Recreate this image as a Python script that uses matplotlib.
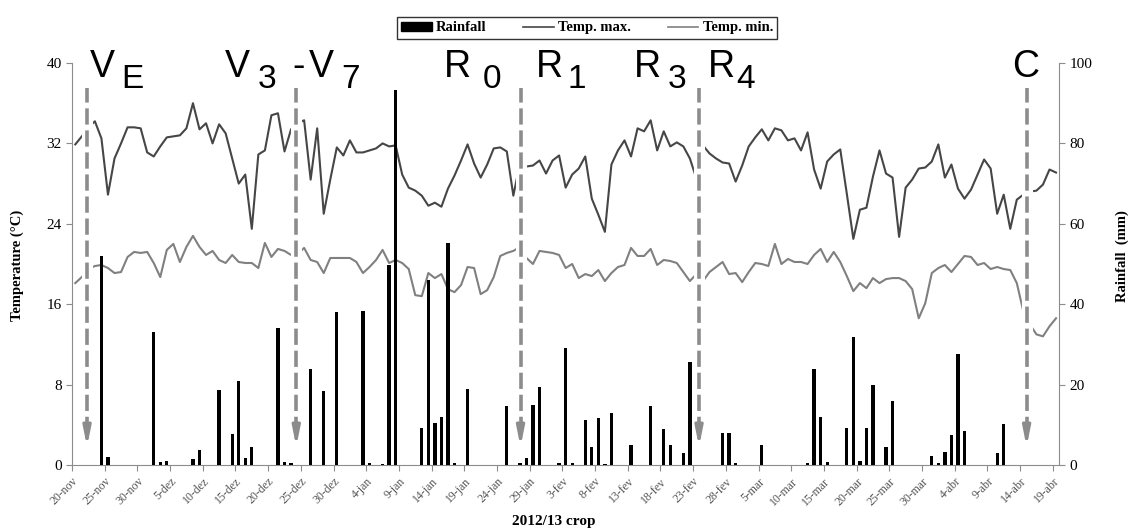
import numpy as np
import matplotlib
matplotlib.use("Agg")
import matplotlib.pyplot as plt
from matplotlib.lines import Line2D
from matplotlib.patches import Patch

# daily values, 20-nov-2012 .. 19-abr-2013 (151 days)
tmax = [31.9, 32.7, 33.6, 34.2, 32.5, 26.9, 30.5, 32.0, 33.6, 33.6,
        33.5, 31.1, 30.7, 31.7, 32.6, 32.7, 32.8, 33.5, 36.0, 33.4,
        34.0, 32.0, 33.9, 33.0, 30.5, 28.0, 28.9, 23.5, 30.9, 31.3,
        34.8, 35.0, 31.2, 33.4, 34.0, 34.3, 28.4, 33.5, 25.0, 28.4,
        31.6, 30.8, 32.3, 31.1, 31.1, 31.3, 31.5, 32.0, 31.7, 31.8,
        28.9, 27.6, 27.3, 26.8, 25.8, 26.1, 25.7, 27.5, 28.8, 30.3,
        31.9, 30.0, 28.6, 29.9, 31.5, 31.6, 31.2, 26.8, 30.0, 29.7,
        29.8, 30.3, 29.0, 30.3, 30.8, 27.6, 28.9, 29.5, 30.7, 26.5,
        24.9, 23.2, 29.9, 31.3, 32.3, 30.7, 33.5, 33.2, 34.3, 31.3,
        33.2, 31.7, 32.1, 31.7, 30.5, 28.5, 31.8, 31.0, 30.5, 30.1,
        30.0, 28.2, 29.8, 31.7, 32.6, 33.4, 32.3, 33.5, 33.3, 32.3,
        32.5, 31.3, 33.1, 29.4, 27.5, 30.2, 30.9, 31.4, 27.0, 22.5,
        25.4, 25.6, 28.7, 31.3, 29.0, 28.6, 22.7, 27.6, 28.4, 29.5,
        29.6, 30.2, 31.9, 28.6, 29.9, 27.5, 26.5, 27.4, 28.9, 30.4,
        29.5, 25.0, 26.9, 23.5, 26.4, 26.9, 27.2, 27.3, 27.9, 29.4,
        29.1]

tmin = [18.1, 18.7, 19.5, 19.8, 19.9, 19.6, 19.1, 19.2, 20.7, 21.2,
        21.1, 21.2, 20.1, 18.7, 21.4, 22.0, 20.2, 21.7, 22.8, 21.7,
        20.9, 21.3, 20.4, 20.1, 20.9, 20.2, 20.1, 20.1, 19.6, 22.1,
        20.7, 21.5, 21.3, 20.9, 21.0, 21.6, 20.4, 20.2, 19.1, 20.6,
        20.6, 20.6, 20.6, 20.2, 19.1, 19.7, 20.4, 21.4, 20.1, 20.4,
        20.1, 19.5, 16.9, 16.8, 19.1, 18.6, 19.0, 17.5, 17.2, 17.9,
        19.7, 19.6, 17.0, 17.4, 18.7, 20.8, 21.1, 21.3, 21.7, 20.6,
        20.0, 21.3, 21.2, 21.1, 20.9, 19.6, 20.0, 18.6, 19.0, 18.8,
        19.4, 18.3, 19.1, 19.7, 19.9, 21.6, 20.8, 20.8, 21.5, 19.9,
        20.4, 20.3, 20.1, 19.2, 18.3, 19.0, 18.3, 19.2, 19.7, 20.2,
        19.0, 19.1, 18.2, 19.2, 20.1, 20.0, 19.8, 22.0, 20.0, 20.5,
        20.2, 20.2, 20.0, 20.9, 21.5, 20.2, 21.2, 20.2, 18.8, 17.3,
        18.1, 17.6, 18.6, 18.1, 18.5, 18.6, 18.6, 18.3, 17.5, 14.6,
        16.1, 19.1, 19.6, 19.9, 19.2, 20.0, 20.8, 20.7, 19.9, 20.1,
        19.5, 19.7, 19.5, 19.4, 18.1, 15.3, 14.0, 13.0, 12.8, 13.8,
        14.6]

rain_day = [4, 5, 12, 13, 14, 18, 19, 22, 24, 25, 26, 27, 31, 32, 33, 36, 38,
            40, 44, 45, 47, 48, 49, 53, 54, 55, 56, 57, 58, 60, 66, 68, 69,
            70, 71, 74, 75, 76, 78, 79, 80, 81, 82, 85, 88, 90, 91, 93, 94,
            99, 100, 101, 105, 112, 113, 114, 115, 118, 119, 120, 121, 122,
            124, 125, 131, 132, 133, 134, 135, 136, 141, 142]
rain_mm = [52.0, 2.0, 33.0, 0.8, 1.0, 1.6, 3.7, 18.7, 7.6, 21.0, 1.7, 4.5,
           34.0, 0.8, 0.4, 24.0, 18.4, 38.0, 38.3, 0.5, 0.3, 49.8, 93.4,
           9.1, 46.0, 10.4, 11.9, 55.1, 0.4, 18.8, 14.8, 0.6, 1.7, 14.9,
           19.5, 0.6, 29.0, 0.6, 11.2, 4.6, 11.6, 0.3, 13.0, 5.0, 14.7, 8.9,
           5.0, 3.1, 25.7, 8.0, 7.9, 0.6, 5.0, 0.6, 24.0, 12.0, 0.8, 9.1,
           31.9, 1.0, 9.1, 19.9, 4.4, 16.0, 2.3, 0.6, 3.3, 7.5, 27.6, 8.5,
           3.1, 10.2]

date_labels = ['20-nov', '25-nov', '30-nov', '5-dez', '10-dez', '15-dez',
               '20-dez', '25-dez', '30-dez', '4-jan', '9-jan', '14-jan',
               '19-jan', '24-jan', '29-jan', '3-fev', '8-fev', '13-fev',
               '18-fev', '23-fev', '28-fev', '5-mar', '10-mar', '15-mar',
               '20-mar', '25-mar', '30-mar', '4-abr', '9-abr', '14-abr',
               '19-abr']

# growth stages: day of arrow, label pieces (text, x px, is_subscript)
stage_day = [2.3, 34.3, 68.6, 95.9, 146.0]
stage_text = [('V', 90, 0), ('E', 121, 1),
              ('V', 225, 0), ('3', 258, 1), ('-', 292, 0), ('V', 309, 0), ('7', 341, 1),
              ('R', 444, 0), ('0', 483, 1),
              ('R', 536, 0), ('1', 567, 1),
              ('R', 634, 0), ('3', 668, 1),
              ('R', 708, 0), ('4', 736, 1),
              ('C', 1012, 0)]

W, H = 1132, 532
serif = 'Liberation Serif'
sans = 'Liberation Sans'
grey = '#8c8c8c'

fig = plt.figure(figsize=(W / 100, H / 100), dpi=100)
x0, x1, y0, y1 = 72, 1059.3, 63, 465
ax = fig.add_axes([x0 / W, 1 - y1 / H, (x1 - x0) / W, (y1 - y0) / H])
ax2 = ax.twinx()

days = np.arange(len(tmax)) + 0.5
ax.plot(days, tmax, color='#464646', lw=1.5, zorder=2)
ax.plot(days, tmin, color='#808080', lw=1.5, zorder=2)
ax2.bar(np.array(rain_day) + 0.5, rain_mm, width=0.5, color='black', zorder=2)

ax.set_xlim(0, 151)
ax.set_ylim(0, 40)
ax2.set_ylim(0, 100)
ax.set_yticks(range(0, 41, 8))
ax2.set_yticks(range(0, 101, 20))
ax.set_xticks(range(0, 151, 5))
ax.set_xticklabels(date_labels, rotation=45, ha='right', rotation_mode='anchor',
                   fontsize=8.5, color='#555555', family=serif)
for t in ax.get_yticklabels():
    t.set_fontsize(11); t.set_family(serif)
for t in ax2.get_yticklabels():
    t.set_fontsize(11); t.set_family(serif)

for a in (ax, ax2):
    a.spines['top'].set_visible(False)
    for s in a.spines.values():
        s.set_color(grey)
    a.tick_params(colors=grey, labelcolor='black', length=4, direction='out')
ax2.spines['left'].set_visible(False)
ax2.spines['bottom'].set_visible(False)
ax.spines['right'].set_visible(False)
ax.tick_params(axis='x', labelcolor='#555555')

# dashed arrows for stages
for d in stage_day:
    ax2.axvline(d, ymin=0.27, ymax=0.96, color='white', lw=8, zorder=1.5)
    ax2.axvline(d, ymin=0.08, ymax=0.938, color=grey, lw=2.6, dashes=(4.5, 1.6),
                zorder=3)
    ax2.annotate('', xy=(d, 0.045), xytext=(d, 0.1),
                 xycoords=('data', 'axes fraction'),
                 textcoords=('data', 'axes fraction'),
                 arrowprops=dict(arrowstyle='-|>,head_length=1.1,head_width=0.22',
                                 color=grey, lw=2.4, shrinkA=0, shrinkB=0),
                 zorder=3)

for txt, px, sub in stage_text:
    base = 88 if sub else 77
    fig.text(px / W, 1 - base / H, txt, fontsize=24 if sub else 27,
             family=sans, ha='left', va='baseline')

fig.text(17 / W, 1 - 265 / H, 'Temperature (°C)', rotation=90, fontsize=10.5,
         fontweight='bold', family=serif, ha='center', va='center')
fig.text(1122 / W, 1 - 256 / H, 'Rainfall  (mm)', rotation=90, fontsize=10.5,
         fontweight='bold', family=serif, ha='center', va='center')
fig.text(554 / W, 1 - 521 / H, '2012/13 crop', fontsize=11,
         fontweight='bold', family=serif, ha='center', va='center')

handles = [Patch(facecolor='black', edgecolor='black'),
           Line2D([], [], color='#464646', lw=1.2),
           Line2D([], [], color='#808080', lw=1.2)]
leg = fig.legend(handles, ['Rainfall', 'Temp. max.', 'Temp. min.'], ncol=3,
                 loc='center', bbox_to_anchor=(587 / W, 1 - 28 / H),
                 prop={'family': serif, 'weight': 'bold', 'size': 10.5},
                 frameon=True, fancybox=False, edgecolor='black',
                 handlelength=2.1, handleheight=0.6, columnspacing=2.5,
                 borderpad=0.3, handletextpad=0.3)
leg.get_frame().set_linewidth(1.0)

fig.savefig('out.png', dpi=100)
